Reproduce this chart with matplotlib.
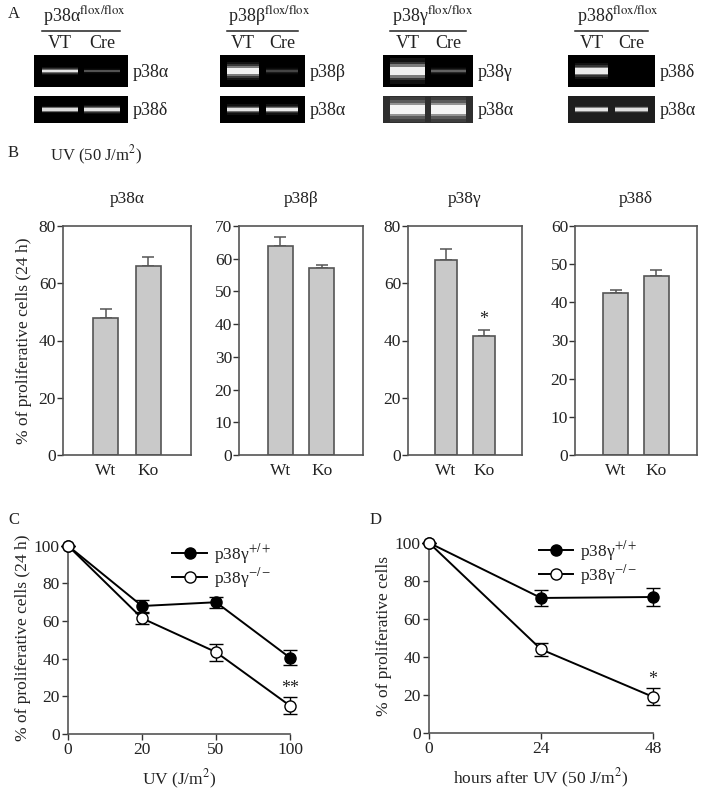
import matplotlib
matplotlib.use("Agg")
import matplotlib.pyplot as plt
from matplotlib.lines import Line2D

plt.rcParams['font.family'] = ['Liberation Serif', 'DejaVu Serif']
plt.rcParams['mathtext.fontset'] = 'stix'
plt.rcParams['text.color'] = '#222222'
plt.rcParams['axes.labelcolor'] = '#222222'
plt.rcParams['xtick.color'] = '#333333'
plt.rcParams['ytick.color'] = '#333333'
plt.rcParams['xtick.labelcolor'] = '#222222'
plt.rcParams['ytick.labelcolor'] = '#222222'

W, H = 705, 794

# ---- panel A : RT-PCR gels
genes = ["p38α", "p38β", "p38γ", "p38δ"]
lanes = ["VT", "Cre"]
top_band = [[0.9, 0.25], [1.0, 0.2], [1.0, 0.3], [0.95, 0.0]]
bottom_band = [[0.85, 0.9], [0.9, 0.95], [1.0, 1.0], [0.9, 0.85]]
top_label = ["p38α", "p38β", "p38γ", "p38δ"]
bottom_label = ["p38δ", "p38α", "p38α", "p38α"]

# ---- panel B : bar charts
groups = ["Wt", "Ko"]
bar_vals = [[48, 66], [64, 57.3], [68, 41.5], [42.5, 47]]
bar_err = [[3, 3], [2.5, 0.7], [4, 2], [0.7, 1.5]]
bar_ylim = [80, 70, 80, 60]
bar_ystep = [20, 10, 20, 10]

# ---- panel C : dose
dose_labels = ["0", "20", "50", "100"]
dose_wt = [100, 68, 70, 40.5]
dose_wt_err = [0, 3, 3, 4]
dose_ko = [100, 61.5, 43.5, 15]
dose_ko_err = [0, 3, 4.5, 4.5]

# ---- panel D : time
hours = [0, 24, 48]
time_wt = [100, 71, 71.5]
time_wt_err = [0, 4, 4.5]
time_ko = [100, 44, 19]
time_ko_err = [0, 3.5, 4.5]


def px(l, t, r, b):
    return [l / W, 1 - b / H, (r - l) / W, (b - t) / H]


fig = plt.figure(figsize=(W / 100, H / 100), dpi=100)

# gels
gel_x = [(34, 128), (220, 305), (383, 473), (568, 655)]
gel_bg = [("black", "black"), ("black", "black"), ("black", "#2e2e2e"), ("black", "#1e1e1e")]
top_thick = [[0.12, 0.08], [0.26, 0.1], [0.36, 0.1], [0.22, 0.1]]
bot_thick = [[0.13, 0.16], [0.18, 0.18], [0.42, 0.42], [0.13, 0.13]]


def draw_gel(ax, vals, thick, bg):
    ax.set_facecolor(bg)
    ax.set_xlim(-0.6, 1.6)
    ax.set_ylim(0, 1)
    ax.set_xticks([])
    ax.set_yticks([])
    for s in ax.spines.values():
        s.set_visible(False)
    for i, (v, t) in enumerate(zip(vals, thick)):
        if v <= 0:
            continue
        # layered glow, brightest in the middle
        for f, a in ((2.2, 0.08), (1.6, 0.15), (1.15, 0.35), (0.75, 0.9)):
            ax.bar(i, t * f, bottom=0.5 - t * f / 2, width=0.84, color="white", alpha=a * v,
                   linewidth=0)


for k in range(4):
    l, r = gel_x[k]
    at = fig.add_axes(px(l, 55, r, 87))
    draw_gel(at, top_band[k], top_thick[k], gel_bg[k][0])
    ab = fig.add_axes(px(l, 96, r, 123))
    draw_gel(ab, bottom_band[k], bot_thick[k], gel_bg[k][1])
    at.text(1.05, 0.45, top_label[k], transform=at.transAxes, fontsize=13, va="center")
    ab.text(1.05, 0.45, bottom_label[k], transform=ab.transAxes, fontsize=13, va="center")
    tr = at.get_xaxis_transform()
    for i, ln in enumerate(lanes):
        at.text(i, 1.37, ln, transform=tr, ha="center", va="center", fontsize=13)
    at.plot([-0.42, 1.42], [1.75, 1.75], transform=tr, color="#222222", lw=1.1, clip_on=False)
    at.text(-0.38, 1.83, genes[k] + r"$^{\rm flox/flox}$", transform=tr,
            ha="left", va="bottom", fontsize=13)

fig.text(8 / W, 1 - 14 / H, "A", fontsize=12, va="center")

# bar charts
fig.text(8 / W, 1 - 153 / H, "B", fontsize=12, va="center")
fig.text(50 / W, 1 - 155 / H, "UV (50 J/m$^2$)", fontsize=12, va="center")

bar_box = [(63, 226, 191, 455), (239, 226, 363, 455), (408, 226, 522, 455), (575, 226, 697, 455)]
for k in range(4):
    ax = fig.add_axes(px(*bar_box[k]))
    x = [0, 1]
    ax.bar(x, bar_vals[k], width=0.6, color="#c9c9c9", edgecolor="#555555", linewidth=1.2, zorder=2)
    ax.errorbar(x, bar_vals[k], yerr=[[0, 0], bar_err[k]], fmt="none", ecolor="#555555",
                elinewidth=1.1, capsize=4, capthick=1.1, zorder=1)
    ax.set_xlim(-1, 2)
    ax.set_ylim(0, bar_ylim[k])
    ax.set_yticks(range(0, bar_ylim[k] + 1, bar_ystep[k]))
    ax.set_xticks(x)
    ax.set_xticklabels(groups)
    ax.tick_params(axis="x", length=0, labelsize=12.5, pad=6)
    ax.tick_params(axis="y", length=4, width=1, labelsize=12.5, pad=1)
    for s in ax.spines.values():
        s.set_color("#555555")
        s.set_linewidth(1.2)
    ax.text(0.5, 1.12, genes[k], transform=ax.transAxes, ha="center", va="center", fontsize=12.5)
    if k == 0:
        ax.set_ylabel("% of proliferative cells (24 h)", fontsize=12.5, labelpad=5)
    if k == 2:
        ax.text(1, bar_vals[k][1] + bar_err[k][1] + 4, "*", ha="center", va="center", fontsize=13)


def curve(ax, x, y, err, face, z):
    ax.errorbar(x, y, yerr=err, fmt="none", ecolor="black", elinewidth=1, capsize=5,
                capthick=1, clip_on=False, zorder=z)
    ax.plot(x, y, color="black", lw=1.4, marker="o", ms=8, mfc=face, mec="black",
            clip_on=False, zorder=z)


leg_handles = [Line2D([], [], color="black", lw=1.4, marker="o", ms=8, mfc="black", mec="black"),
               Line2D([], [], color="black", lw=1.4, marker="o", ms=8, mfc="white", mec="black")]
leg_labels = [r"p38γ$^{+/+}$", r"p38γ$^{-/-}$"]

# panel C
fig.text(8 / W, 1 - 520 / H, "C", fontsize=12, va="center")
axc = fig.add_axes(px(68, 542, 290, 734))
xi = list(range(len(dose_labels)))
curve(axc, xi, dose_wt, dose_wt_err, "black", 3)
curve(axc, xi, dose_ko, dose_ko_err, "white", 4)
axc.set_xlim(0, 3)
axc.set_ylim(0, 102)
axc.set_xticks(xi)
axc.set_xticklabels(dose_labels)
axc.set_yticks(range(0, 101, 20))
axc.set_xlabel("UV (J/m$^2$)", fontsize=12.5, labelpad=7)
axc.set_ylabel("% of proliferative cells (24 h)", fontsize=12.5, labelpad=2)
axc.text(3, 24, "**", ha="center", va="center", fontsize=13)

# panel D
fig.text(370 / W, 1 - 520 / H, "D", fontsize=12, va="center")
axd = fig.add_axes(px(429, 539, 653, 733))
curve(axd, hours, time_wt, time_wt_err, "black", 3)
curve(axd, hours, time_ko, time_ko_err, "white", 4)
axd.set_xlim(0, 48)
axd.set_ylim(0, 102)
axd.set_xticks(hours)
axd.set_yticks(range(0, 101, 20))
axd.set_xlabel("hours after UV (50 J/m$^2$)", fontsize=12.5, labelpad=7)
axd.set_ylabel("% of proliferative cells", fontsize=12.5, labelpad=2)
axd.text(48, 28, "*", ha="center", va="center", fontsize=13)

for ax, lx in ((axc, 0.47), (axd, 0.49)):
    for s in ("top", "right"):
        ax.spines[s].set_visible(False)
    for s in ("left", "bottom"):
        ax.spines[s].set_color("#555555")
        ax.spines[s].set_linewidth(1.2)
    ax.tick_params(length=4, width=1, labelsize=12.5, pad=2)
    ax.legend(leg_handles, leg_labels, loc="upper left", bbox_to_anchor=(lx, 1.0),
              frameon=False, fontsize=12.5, handlelength=2.0, handletextpad=0.4,
              labelspacing=0.0, borderpad=0, borderaxespad=0)

fig.savefig("out.png", dpi=100)
